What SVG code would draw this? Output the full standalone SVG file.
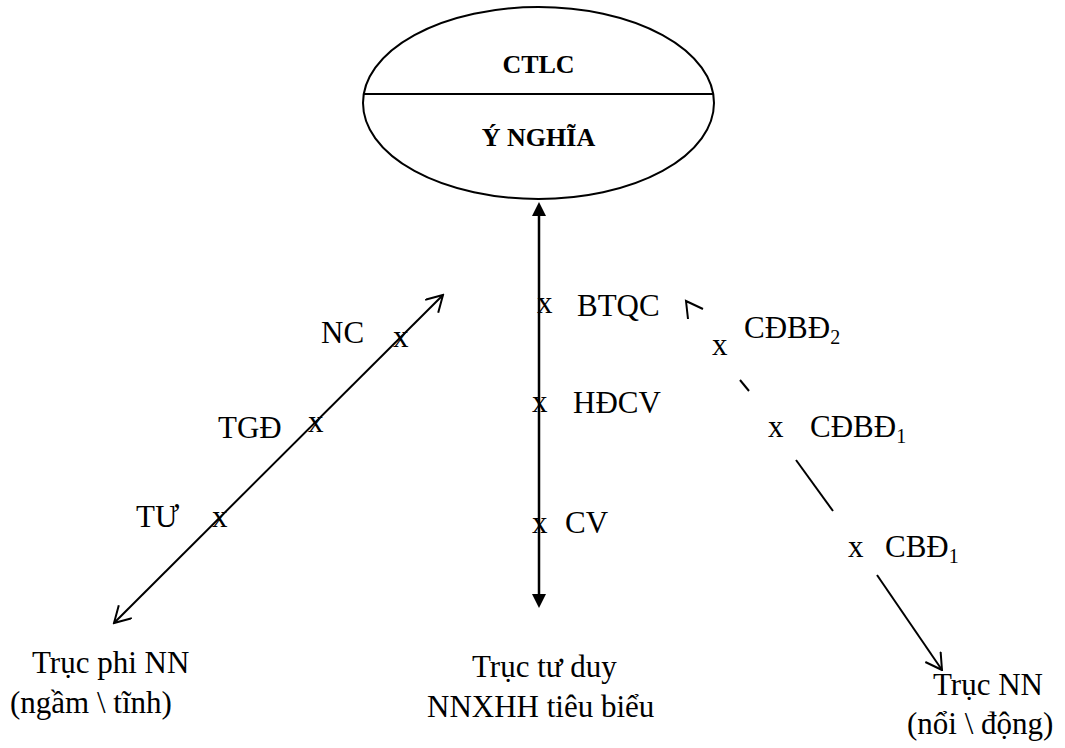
<svg xmlns="http://www.w3.org/2000/svg" width="1065" height="748" viewBox="0 0 1065 748">
<style>
text{font-family:"Liberation Serif","Times New Roman",serif;font-size:31px;fill:#000}
.b{font-weight:bold;font-size:26px}
.sub{font-size:20px}
.ln{stroke:#000;stroke-width:2;fill:none}
.vl{stroke:#000;stroke-width:2.5;fill:none}
</style>
<defs>
<marker id="open" viewBox="0 0 18 20" markerUnits="userSpaceOnUse" markerWidth="18" markerHeight="20" refX="16.5" refY="9.75" orient="auto-start-reverse">
<path d="M0.5,0.5 L16.5,9.75 L0.5,19" fill="none" stroke="#000" stroke-width="2"/>
</marker>
<marker id="fill" viewBox="0 0 14 14" markerUnits="userSpaceOnUse" markerWidth="14" markerHeight="14" refX="0" refY="7" orient="auto-start-reverse">
<path d="M0,0 L14,7 L0,14 z" fill="#000"/>
</marker>
</defs>
<rect width="1065" height="748" fill="#fff"/>
<g id="ellipse-node">
<ellipse cx="538.5" cy="103" rx="175.5" ry="96" fill="#fff" stroke="#000" stroke-width="2"/>
<line x1="364" y1="94" x2="713" y2="94" stroke="#000" stroke-width="2"/>
<text class="b" x="538.5" y="73" text-anchor="middle">CTLC</text>
<text class="b" x="538.5" y="146" text-anchor="middle">Ý NGHĨA</text>
</g>
<g id="connectors">
<line class="ln" x1="114" y1="623" x2="443" y2="295" marker-start="url(#open)" marker-end="url(#open)"/>
<line class="vl" x1="539" y1="216" x2="539" y2="594" marker-start="url(#fill)" marker-end="url(#fill)"/>
<path class="ln" d="M688,319 L686,301 L703,309"/>
<line class="ln" x1="740" y1="380" x2="749" y2="391"/>
<line class="ln" x1="796" y1="460" x2="833" y2="511"/>
<line class="ln" x1="877" y1="575" x2="942" y2="670" marker-end="url(#open)"/>
</g>
<g id="point-NC"><text x="393" y="347">x</text><text x="321" y="343">NC</text></g>
<g id="point-TGD"><text x="308" y="432">x</text><text x="218" y="438">TGĐ</text></g>
<g id="point-TU"><text x="212" y="527">x</text><text x="136" y="527">TƯ</text></g>
<g id="point-BTQC"><text x="537" y="313">x</text><text x="577" y="316">BTQC</text></g>
<g id="point-HDCV"><text x="532" y="412">x</text><text x="573" y="413">HĐCV</text></g>
<g id="point-CV"><text x="532" y="533">x</text><text x="565" y="533">CV</text></g>
<g id="point-CDBD2"><text x="712" y="355">x</text><text x="744" y="338">CĐBĐ<tspan class="sub" dy="6">2</tspan></text></g>
<g id="point-CDBD1"><text x="768" y="437">x</text><text x="810" y="437">CĐBĐ<tspan class="sub" dy="6">1</tspan></text></g>
<g id="point-CBD1"><text x="848" y="557">x</text><text x="885" y="557">CBĐ<tspan class="sub" dy="6">1</tspan></text></g>
<g id="axis-left"><text x="32" y="673">Trục phi NN</text><text x="10" y="713">(ngầm \ tĩnh)</text></g>
<g id="axis-middle"><text x="472" y="677">Trục tư duy</text><text x="427" y="717">NNXHH tiêu biểu</text></g>
<g id="axis-right"><text x="933" y="695">Trục NN</text><text x="907" y="734">(nổi \ động)</text></g>
</svg>
